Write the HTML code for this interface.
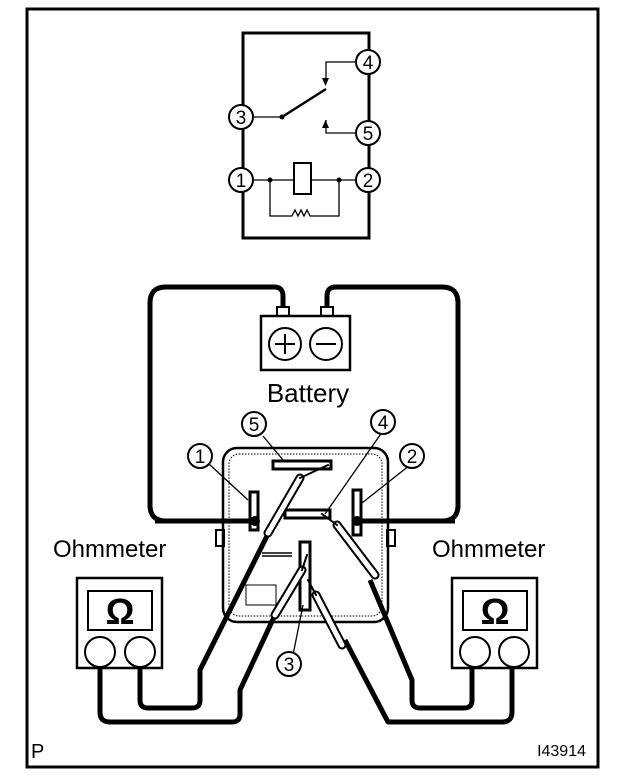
<!DOCTYPE html>
<html><head><style>body{margin:0;background:#fff}svg{display:block}</style></head><body>
<svg width="624" height="784" viewBox="0 0 624 784" xmlns="http://www.w3.org/2000/svg" font-family="Liberation Sans, sans-serif">
<rect x="27" y="9" width="571" height="758" fill="none" stroke="#000" stroke-width="3"/>
<!-- schematic -->
<rect x="243" y="33" width="126" height="205" fill="none" stroke="#000" stroke-width="3"/>
<g fill="#fff" stroke="#000" stroke-width="2">
<circle cx="368" cy="62" r="12"/><circle cx="241" cy="117" r="12"/><circle cx="368" cy="133" r="12"/><circle cx="241" cy="180" r="12"/><circle cx="368" cy="180" r="12"/>
</g>
<g font-size="19" text-anchor="middle">
<text x="368" y="69">4</text><text x="241" y="124">3</text><text x="368" y="140">5</text><text x="241" y="187">1</text><text x="368" y="187">2</text></g>
<g stroke="#000" fill="none" stroke-width="1.3">
<path d="M253 117H282"/><path d="M282 117L326 89" stroke-width="2.5"/>
<path d="M356 62H326V78"/><path d="M356 133H326V120"/>
<path d="M253 180H295M311 180H356"/><rect x="294" y="163" width="17" height="31" stroke-width="2"/>
<path d="M270 180V216H292l3-6 3 6 3-6 3 6 3-6 3 6H339V180"/>
</g>
<path d="M322 78h7l-3.5 8z M322 128h7l-3.5-8z" fill="#000"/>
<circle cx="282" cy="117" r="2.5"/><circle cx="270" cy="180" r="2.5"/><circle cx="339" cy="180" r="2.5"/>
<!-- battery wires -->
<g stroke="#000" stroke-width="5" fill="none">
<path d="M283 312V296q0-9-9-9H166q-16 0-16 16V505q0 16 16 16H255"/>
<path d="M327 312V296q0-9 9-9H442q16 0 16 16V505q0 16-16 16H355"/>
</g>
<rect x="277" y="307" width="12" height="9" fill="#fff" stroke="#000" stroke-width="2"/>
<rect x="321" y="307" width="12" height="9" fill="#fff" stroke="#000" stroke-width="2"/>
<rect x="261" y="316" width="89" height="54" fill="#fff" stroke="#000" stroke-width="2.5"/>
<circle cx="285" cy="344" r="16" fill="none" stroke="#000" stroke-width="2"/><circle cx="326" cy="344" r="16" fill="none" stroke="#000" stroke-width="2"/>
<path d="M275 344h20M285 334v20M316 344h20" stroke="#000" stroke-width="2"/>
<text x="308" y="402" font-size="26" text-anchor="middle">Battery</text>
<!-- relay body -->
<rect x="223" y="448" width="165" height="174" rx="14" fill="#fff" stroke="#000" stroke-width="2.5"/>
<rect x="229" y="454" width="153" height="162" rx="10" fill="none" stroke="#000" stroke-width="1" stroke-dasharray="1.5 1.5"/>
<rect x="216" y="530" width="8" height="16" fill="none" stroke="#000" stroke-width="2"/>
<rect x="387" y="530" width="8" height="16" fill="none" stroke="#000" stroke-width="2"/>
<path d="M155 521H255M355 521H455" stroke="#000" stroke-width="5"/>
<g fill="#fff" stroke="#000" stroke-width="3">
<rect x="273" y="461" width="58" height="8"/><rect x="250" y="492" width="8" height="38"/><rect x="353" y="490" width="8" height="45"/><rect x="285" y="510" width="45" height="8"/><rect x="300" y="542" width="10" height="68"/></g>
<path d="M262 553h30M262 556h30" stroke="#000" stroke-width="1.5"/>
<rect x="246" y="585" width="30" height="20" fill="none" stroke="#000" stroke-width="1"/>
<circle cx="255" cy="521" r="5"/><circle cx="357" cy="521" r="5"/>
<!-- meter wires -->
<g stroke="#000" stroke-width="5" fill="none" stroke-linejoin="round">
<path d="M140 668V700q0 8 8 8H192q8 0 8-8V670L270 530"/>
<path d="M100 668V712q0 10 10 10H232q8 0 8-8V690L275 615"/>
<path d="M472 668V700q0 8-8 8H420q-8 0-8-8V680L370 580"/>
<path d="M512 668V712q0 10-10 10H388L345 640"/>
</g>
<!-- probes -->
<g stroke-linecap="round">
<g stroke="#000" stroke-width="9"><path d="M268 533L300 478M275 615L302 570M375 575L337 525M342 645L316 595"/></g>
<g stroke="#fff" stroke-width="5"><path d="M268 533L300 478M275 615L302 570M375 575L337 525M342 645L316 595"/></g>
<g stroke="#000" stroke-width="2"><path d="M300 478L328 465M302 570L307 555M337 525L322 514M316 595L308 580"/></g>
</g>
<!-- leader labels -->
<g stroke="#000" stroke-width="1.3" fill="none"><path d="M209 464L248 500M410 465L362 503M263 436L283 460M385 428L325 514M291 665L303 605"/></g>
<g fill="#fff" stroke="#000" stroke-width="2"><circle cx="200" cy="456" r="12"/><circle cx="254" cy="424" r="12"/><circle cx="383" cy="422" r="12"/><circle cx="412" cy="456" r="12"/><circle cx="289" cy="664" r="12"/></g>
<g font-size="19" text-anchor="middle"><text x="200" y="463">1</text><text x="254" y="431">5</text><text x="383" y="429">4</text><text x="412" y="463">2</text><text x="289" y="671">3</text></g>
<!-- ohmmeters -->
<text x="53" y="557" font-size="24">Ohmmeter</text><text x="432" y="557" font-size="24">Ohmmeter</text>
<g fill="#fff" stroke="#000" stroke-width="2.5">
<rect x="77" y="578" width="85" height="90"/><rect x="452" y="578" width="85" height="90"/></g>
<g fill="none" stroke="#000" stroke-width="2"><rect x="88" y="591" width="64" height="39"/><rect x="463" y="591" width="64" height="39"/>
<circle cx="100" cy="652" r="15"/><circle cx="140" cy="652" r="15"/><circle cx="475" cy="652" r="15"/><circle cx="514" cy="652" r="15"/></g>
<g font-size="36" font-weight="bold" text-anchor="middle"><text x="120" y="624">Ω</text><text x="495" y="624">Ω</text></g>
<text x="31" y="758" font-size="20">P</text><text x="586" y="756" font-size="16" text-anchor="end">I43914</text>
</svg>
</body></html>
